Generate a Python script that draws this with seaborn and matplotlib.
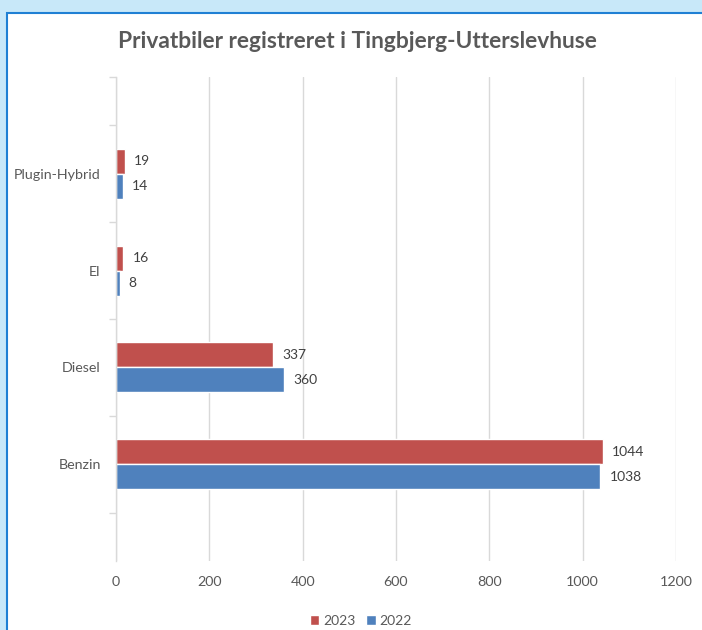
import matplotlib
matplotlib.use("Agg")
import matplotlib.pyplot as plt
import seaborn as sns
import pandas as pd
from matplotlib.patches import Rectangle
from matplotlib.ticker import FixedLocator

categories = ["Plugin-Hybrid", "El", "Diesel", "Benzin"]
years = ["2023", "2022"]
values_2023 = [19, 16, 337, 1044]
values_2022 = [14, 8, 360, 1038]
x_ticks = [0, 200, 400, 600, 800, 1000, 1200]
colors = {"2023": "#C0504D", "2022": "#4F81BD"}

df = pd.DataFrame({
    "Kategori": categories * 2,
    "År": ["2023"] * 4 + ["2022"] * 4,
    "Antal": values_2023 + values_2022,
})

sns.set_theme(style="white")
plt.rcParams["font.family"] = ["Lato", "DejaVu Sans"]

W, H = 702, 630
fig = plt.figure(figsize=(W / 100, H / 100), dpi=100)
fig.patch.set_facecolor("#C8E8F9")
fig.patches.append(Rectangle((7 / W, -0.05), 1, 1.05 - 13 / H, transform=fig.transFigure,
                             facecolor="white", edgecolor="#1F80D4", linewidth=1.5, zorder=-10))

ax = fig.add_axes([116 / W, 1 - 561 / H, (676 - 116) / W, (561 - 77) / H])
ax.set_facecolor("none")

sns.barplot(data=df, y="Kategori", x="Antal", hue="År", hue_order=years,
            order=categories, palette=colors, orient="h", width=0.515,
            dodge=True, ax=ax, saturation=1, legend=True)

for cont in ax.containers:
    ax.bar_label(cont, fmt="%d", padding=6.5, fontsize=10, color="#404040")

ax.set_xlim(0, 1200)
ax.set_ylim(4, -1)
ax.set_xticks(x_ticks)
ax.set_xticklabels([str(t) for t in x_ticks])
ax.grid(axis="x", color="#D9D9D9", linewidth=1)
ax.set_axisbelow(True)
for s in ["top", "right", "bottom"]:
    ax.spines[s].set_visible(False)
ax.spines["left"].set_color("#D9D9D9")
ax.spines["left"].set_linewidth(1)

ax.yaxis.set_minor_locator(FixedLocator([-1, -0.5, 0.5, 1.5, 2.5, 3.5]))
ax.tick_params(axis="y", which="minor", length=5, color="#D9D9D9", width=1, left=True)
ax.tick_params(axis="y", which="major", length=0, labelsize=10.3, labelcolor="#595959", pad=11)
ax.tick_params(axis="x", length=0, labelsize=10.3, labelcolor="#595959", pad=11)
ax.set_xlabel("")
ax.set_ylabel("")

leg = ax.legend(loc="upper center", bbox_to_anchor=(0.437, -0.085), ncol=2, frameon=False,
                fontsize=10, handlelength=0.7, handleheight=0.7, handletextpad=0.25,
                columnspacing=0.8, labelcolor="#595959")

fig.text(357 / W, 1 - 42 / H, "Privatbiler registreret i Tingbjerg-Utterslevhuse",
         ha="center", va="center", fontsize=16.4, fontweight="bold", color="#595959")

fig.savefig("out.png", dpi=100, facecolor=fig.get_facecolor())
